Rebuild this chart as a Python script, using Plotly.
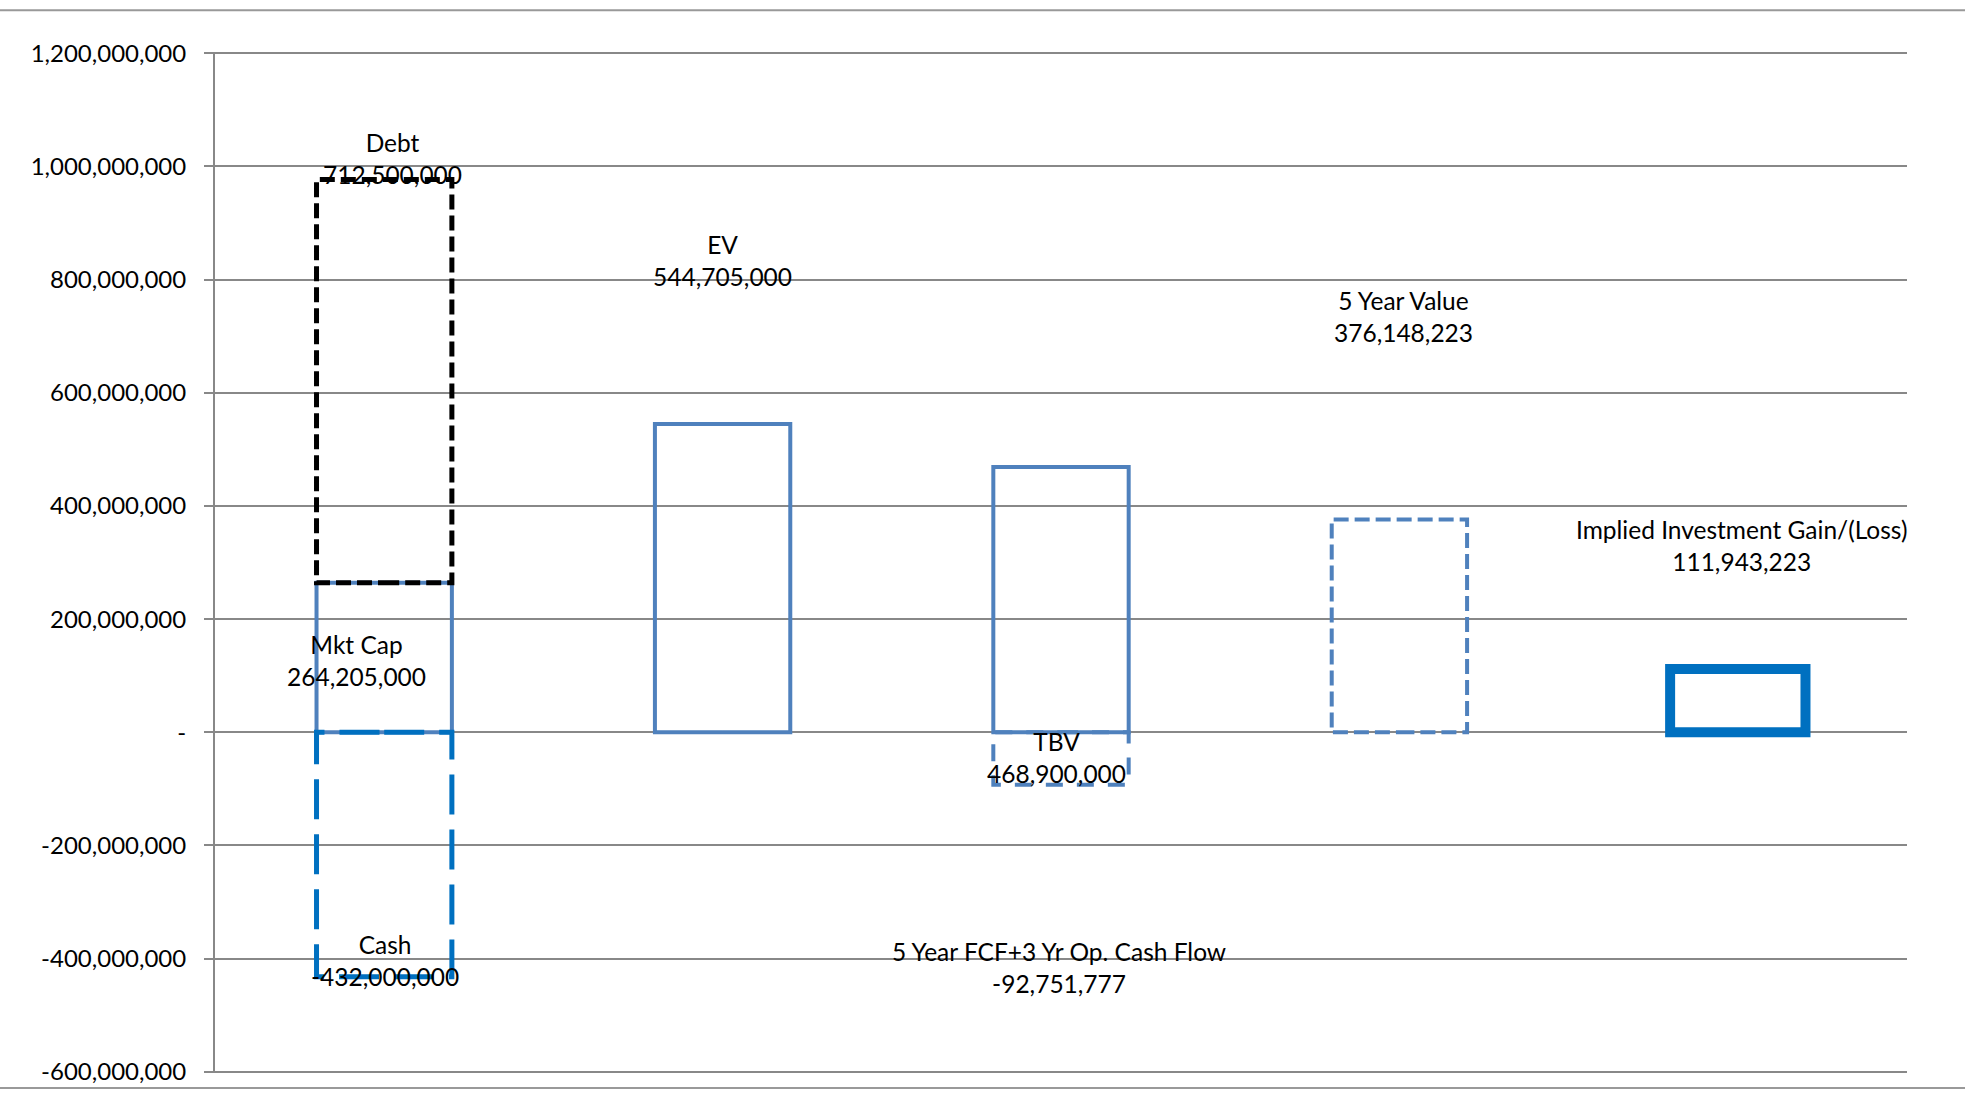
import plotly.graph_objects as go

# ---- data ----
categories = ["Market Cap / Debt / Cash", "EV", "TBV", "5 Year Value", "Implied Gain"]
series_names = ["Mkt Cap", "Debt", "Cash", "EV", "TBV",
                "5 Year FCF+3 Yr Op. Cash Flow", "5 Year Value",
                "Implied Investment Gain/(Loss)"]
series_category = [0, 0, 0, 1, 2, 2, 3, 4]
series_values = [264205000, 712500000, -432000000, 544705000, 468900000,
                 -92751777, 376148223, 111943223]
ytick_vals = [-600e6, -400e6, -200e6, 0, 200e6, 400e6, 600e6, 800e6, 1000e6, 1200e6]
ytick_text = ["-600,000,000", "-400,000,000", "-200,000,000", "-", "200,000,000",
              "400,000,000", "600,000,000", "800,000,000", "1,000,000,000", "1,200,000,000"]

# label placement (data units) and horizontal nudges
label_y = [126e6, 1013e6, -403e6, 834e6, -44e6, -416e6, 734e6, 330e6]
label_xshift = [-28, 8, 1, 0, -5, -2, 4, 4]

# styles
styles = [
    dict(color="#4F81BD", width=4, dash="solid"),        # Mkt Cap
    dict(color="#000000", width=5, dash="15px,6px"),     # Debt
    dict(color="#0070C0", width=5, dash="40px,15px"),    # Cash
    dict(color="#4F81BD", width=4, dash="solid"),        # EV
    dict(color="#4F81BD", width=4, dash="solid"),        # TBV
    dict(color="#4F81BD", width=4, dash="17px,14px"),    # FCF
    dict(color="#4F81BD", width=4, dash="15px,6px"),     # 5 Year Value
    dict(color="#0070C0", width=10, dash="solid"),       # Implied
]
draw_order = [0, 2, 1, 3, 4, 5, 6, 7]

# ---- stacking (positive and negative stacks per category) ----
bases = []
pos_top = {}
neg_bot = {}
for cat, v in zip(series_category, series_values):
    if v >= 0:
        b = pos_top.get(cat, 0)
        bases.append(b)
        pos_top[cat] = b + v
    else:
        b = neg_bot.get(cat, 0)
        bases.append(b)
        neg_bot[cat] = b + v

bar_w = 0.4
fig = go.Figure()
for i in draw_order:
    c = series_category[i] + 0.5
    b = bases[i]
    t = b + series_values[i]
    x0, x1 = c - bar_w / 2, c + bar_w / 2
    fig.add_trace(go.Scatter(
        x=[c, x1, x1, x0, x0, c],
        y=[b, b, t, t, b, b],
        mode="lines",
        line=dict(**styles[i]),
        hoverinfo="skip",
        showlegend=False,
        name=series_names[i],
    ))

for i, name in enumerate(series_names):
    fig.add_annotation(
        x=series_category[i] + 0.5, y=label_y[i],
        text=f"{name}<br>{series_values[i]:,.0f}",
        showarrow=False, xshift=label_xshift[i],
        font=dict(family="Lato", size=24.5, color="black"),
        align="center",
    )

grid = "#888888"
fig.update_layout(
    width=1965, height=1094,
    margin=dict(l=215, r=58, t=52, b=21, autoexpand=False),
    paper_bgcolor="white", plot_bgcolor="white",
    font=dict(family="Lato", size=24, color="black"),
    xaxis=dict(range=[0, 5], showticklabels=False, showgrid=False,
               zeroline=False, showline=False, ticks="", automargin=False),
    yaxis=dict(range=[-602e6, 1202e6], tickvals=ytick_vals, ticktext=ytick_text,
               showgrid=True, gridcolor=grid, gridwidth=2,
               showline=True, linecolor=grid, linewidth=2,
               ticks="outside", ticklen=9, tickwidth=2, tickcolor=grid,
               zeroline=False, ticklabelstandoff=13, automargin=False,
               tickfont=dict(family="Lato", size=24, color="black")),
    shapes=[
        dict(type="line", xref="paper", yref="paper", x0=-0.2, x1=1.1,
             y0=1.041, y1=1.041, line=dict(color="#999999", width=2)),
        dict(type="line", xref="paper", yref="paper", x0=-0.2, x1=1.1,
             y0=-0.0147, y1=-0.0147, line=dict(color="#999999", width=2)),
    ],
)

fig.write_html("out.html")
